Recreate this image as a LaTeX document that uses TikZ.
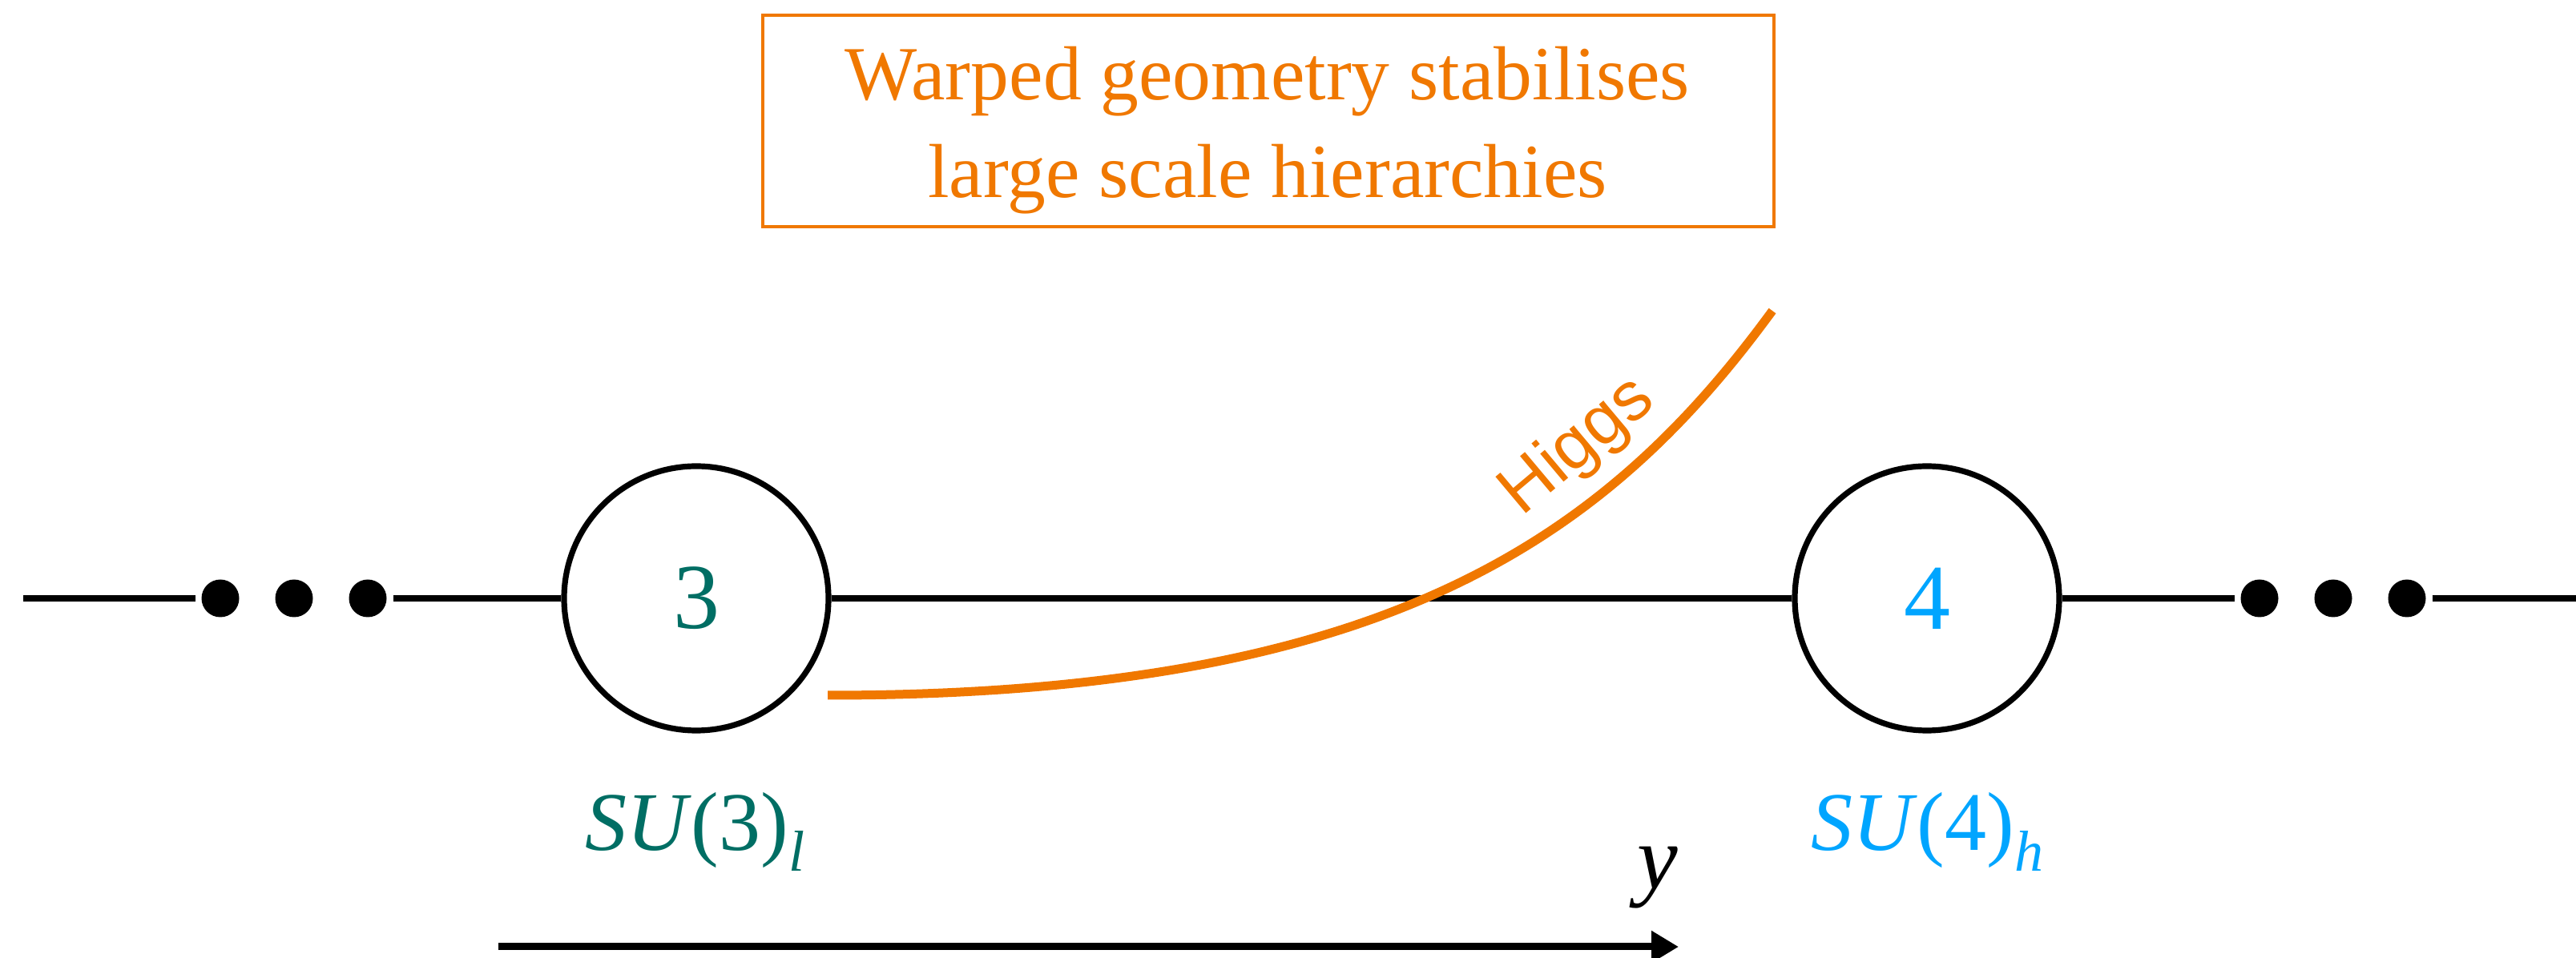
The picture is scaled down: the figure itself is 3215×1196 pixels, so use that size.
\documentclass[tikz,border=0pt]{standalone}
\usepackage{fontspec}
\setmainfont{Liberation Serif}
\newfontfamily\higgsfont{Liberation Sans}
\usetikzlibrary{arrows.meta}
\definecolor{orng}{RGB}{240,120,0}
\definecolor{tealg}{RGB}{0,110,100}
\definecolor{blueg}{RGB}{0,165,255}
\begin{document}
\begin{tikzpicture}[x=0.25pt,y=-0.25pt,
  wire/.style={line width=1.8pt},
  group/.style={circle,draw,line width=1.8pt,minimum size=82.5pt,inner sep=0pt,font=\fontsize{29}{29}\selectfont},
  dotnode/.style={circle,fill,minimum size=11.75pt,inner sep=0pt,outer sep=2pt},
  grouplabel/.style={anchor=base,inner sep=0pt,font=\fontsize{26}{26}\selectfont},
  subfont/.style={},
  boxtext/.style={anchor=base,inner sep=0pt,text=orng,font=\fontsize{23.9}{23.9}\selectfont}]
\useasboundingbox (0,0) rectangle (3215,1196);
% message box
\node[draw=orng,line width=1.1pt,minimum width=315.5pt,minimum height=66pt,inner sep=0pt] (box) at (1583,151) {};
\node[boxtext] (t1) at (1582,125) {Warped geometry stabilises};
\node[boxtext] (t2) at (1582,247) {large scale hierarchies};
% chain
\coordinate (L) at (29,747);
\coordinate (R) at (3215,747);
\node[dotnode] (d1) at (275,747) {};
\node[dotnode] (d2) at (367,747) {};
\node[dotnode] (d3) at (459,747) {};
\node[group,text=tealg] (c3) at (869,747) {3};
\node[group,text=blueg] (c4) at (2405,747) {4};
\node[dotnode] (d4) at (2820,747) {};
\node[dotnode] (d5) at (2912,747) {};
\node[dotnode] (d6) at (3004,747) {};
\draw[wire] (L) -- (d1);
\draw[wire] (d3) -- (c3);
\draw[wire] (c3) -- (c4);
\draw[wire] (c4) -- (d4);
\draw[wire] (d6) -- (R);
% Higgs curve
\coordinate (h0) at (1033,868);
\coordinate (h1) at (2212,388);
\draw[orng,line width=2.75pt] (h0) .. controls (1733,868) and (2005,671) .. (h1);
\node[anchor=base,rotate=40,inner sep=0pt,text=orng,font=\higgsfont\fontsize{21.5}{21.5}\selectfont] (higgs) at (1984,575) {Higgs};
% labels
\node[grouplabel,text=tealg] (l3) at (867,1062) {\textit{SU}(3)\raisebox{-6.25pt}{\fontsize{18}{18}\selectfont\textit{l}}};
\node[grouplabel,text=blueg] (l4) at (2405,1062) {\textit{SU}(4)\raisebox{-6.25pt}{\fontsize{18}{18}\selectfont\textit{h}}};
% y axis
\coordinate (a0) at (622,1182);
\coordinate (a1) at (2095,1182);
\draw[line width=2.25pt,-{Triangle[length=8.5pt,width=9.5pt]}] (a0) -- (a1);
\node[anchor=base,inner sep=0pt,font=\fontsize{28.5}{28.5}\selectfont] (ylab) at (2069,1110) {\textit{y}};
\end{tikzpicture}
\end{document}
